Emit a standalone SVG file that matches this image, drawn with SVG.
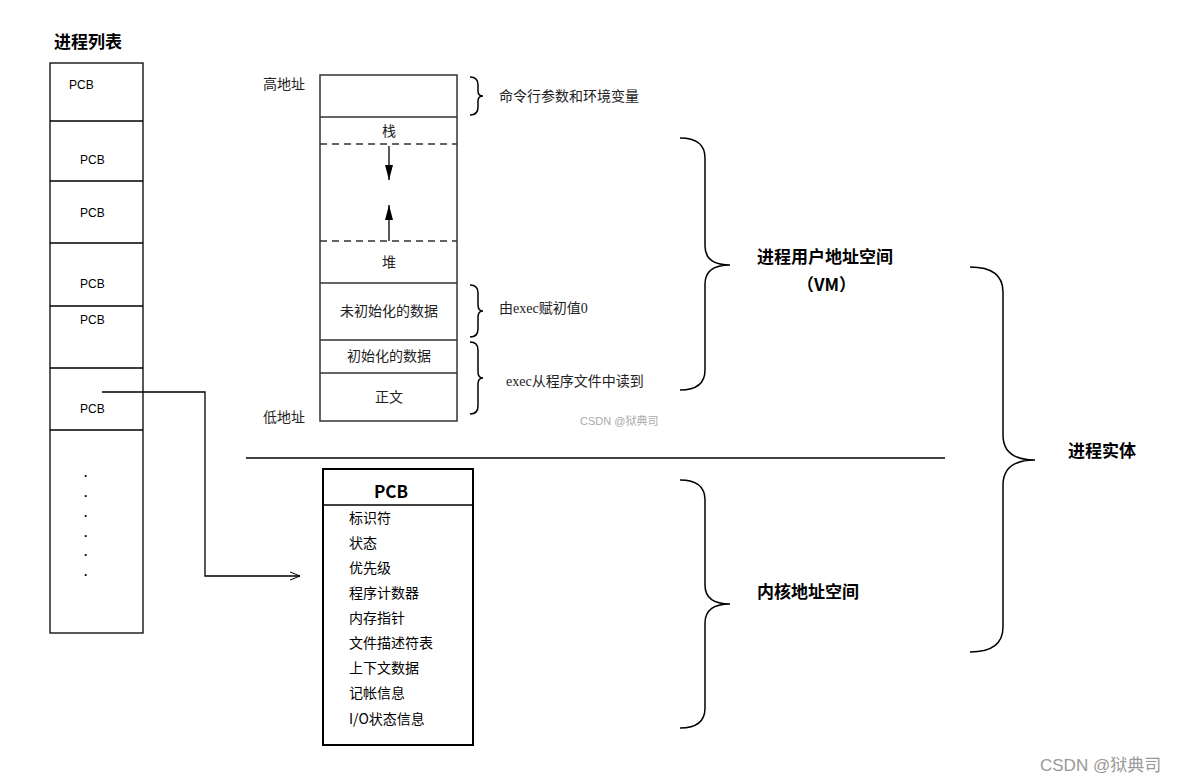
<svg xmlns="http://www.w3.org/2000/svg" width="1184" height="782" viewBox="0 0 1184 782">
<style>
.b{fill:none;stroke:#000;stroke-width:1.3}
.g{fill:none;stroke:#333;stroke-width:1.5}
.br{fill:none;stroke:#000;stroke-width:1.5}
.s{font-family:"Liberation Sans","Noto Sans CJK SC",sans-serif;font-size:12px;fill:#000}
.m{font-family:"Liberation Serif","Noto Sans CJK SC",serif;font-size:14px;fill:#222}
.k{font-family:"Noto Sans CJK SC",sans-serif;font-size:14px;fill:#000}
.h{font-family:"Noto Sans CJK SC",sans-serif;font-size:17px;font-weight:bold;fill:#000}
</style>
<defs><marker id="a" markerWidth="12" markerHeight="10" refX="11" refY="5" orient="auto" markerUnits="userSpaceOnUse"><path d="M1,1 L11,5 L1,9" fill="none" stroke="#000"/></marker>
<marker id="t" markerWidth="16" markerHeight="10" refX="15" refY="5" orient="auto" markerUnits="userSpaceOnUse"><path d="M0,1 L15,5 L0,9 Z" fill="#000"/></marker></defs>
<rect width="1184" height="782" fill="#fff"/>
<g id="list">
<text x="54" y="48" class="h">进程列表</text>
<rect x="50" y="63" width="93" height="570" class="b"/>
<path d="M50 121H143M50 181H143M50 243H143M50 306H143M50 368H143M50 430H143" class="b"/>
<text x="69" y="89" class="s">PCB</text><text x="80" y="164" class="s">PCB</text><text x="80" y="217" class="s">PCB</text><text x="80" y="288" class="s">PCB</text><text x="80" y="324" class="s">PCB</text><text x="80" y="413" class="s">PCB</text>
<g class="s" font-weight="bold"><text x="84" y="477">.</text><text x="84" y="497">.</text><text x="84" y="517">.</text><text x="84" y="537">.</text><text x="84" y="556">.</text><text x="84" y="576">.</text></g>
</g>
<g id="mem">
<text x="263" y="89" class="m">高地址</text><text x="263" y="422" class="m">低地址</text>
<rect x="320" y="75" width="137" height="346" class="g"/>
<path d="M320 117H457M320 283H457M320 340H457M320 373H457" class="g"/>
<path d="M320 144H457M320 241H457" class="g" stroke-dasharray="7,5"/>
<text x="389" y="136" class="m" text-anchor="middle">栈</text>
<text x="389" y="267" class="m" text-anchor="middle">堆</text>
<text x="389" y="316" class="m" text-anchor="middle">未初始化的数据</text>
<text x="389" y="361" class="m" text-anchor="middle">初始化的数据</text>
<text x="389" y="402" class="m" text-anchor="middle">正文</text>
<text x="499" y="101" class="m">命令行参数和环境变量</text>
<text x="499" y="313" class="m">由exec赋初值0</text>
<text x="506" y="386" class="m">exec从程序文件中读到</text>
<text x="580" y="425" font-family="Liberation Sans,Noto Sans CJK SC,sans-serif" font-size="11" fill="#aaa">CSDN @狱典司</text>
</g>
<g id="pcb">
<rect x="323" y="469" width="150" height="276" fill="#fff" stroke="#000" stroke-width="2"/>
<path d="M323 505H473" class="b"/>
<text x="391" y="498" class="h" text-anchor="middle">PCB</text>
<g class="k"><text x="349" y="523">标识符</text><text x="349" y="548">状态</text><text x="349" y="573">优先级</text><text x="349" y="598">程序计数器</text><text x="349" y="623">内存指针</text><text x="349" y="648">文件描述符表</text><text x="349" y="673">上下文数据</text><text x="349" y="698">记帐信息</text><text x="349" y="724">I/O状态信息</text></g>
</g>
<g id="labels">
<text x="757" y="263" class="h">进程用户地址空间</text>
<text x="797" y="291" class="h">（VM）</text>
<text x="757" y="598" class="h">内核地址空间</text>
<text x="1068" y="457" class="h" font-size="19">进程实体</text>
</g>
<g id="connectors">
<path d="M389 146V180" stroke="#000" stroke-width="1.3" marker-end="url(#t)"/>
<path d="M389 241V205" stroke="#000" stroke-width="1.3" marker-end="url(#t)"/>
<path d="M246 458H945" stroke="#000" stroke-width="1.3"/>
<path d="M102 392H205V576H300" class="b" marker-end="url(#a)"/>
<path d="M470 77q8 0 8 8v6q0 5 5 5q-5 0 -5 5v6q0 8 -8 8" class="br"/>
<path d="M470 285q8 0 8 8v12q0 6 5 6q-5 0 -5 6v12q0 8 -8 8" class="br"/>
<path d="M470 342q8 0 8 8v22q0 6 5 6q-5 0 -5 6v22q0 8 -8 8" class="br"/>
<path d="M680 138q25 0 25 20v88q0 19 25 19q-25 0 -25 19v86q0 20 -25 20" class="br" stroke-width="2"/>
<path d="M680 480q25 0 25 20v85q0 19 25 19q-25 0 -25 19v85q0 20 -25 20" class="br" stroke-width="2"/>
<path d="M970 267q33 0 33 25v143q0 25 32 25q-32 0 -32 25v142q0 25 -33 25" class="br" stroke-width="2"/>
</g>
<text x="1040" y="771" font-family="Liberation Sans,Noto Sans CJK SC,sans-serif" font-size="17" fill="#999">CSDN @狱典司</text>
</svg>
